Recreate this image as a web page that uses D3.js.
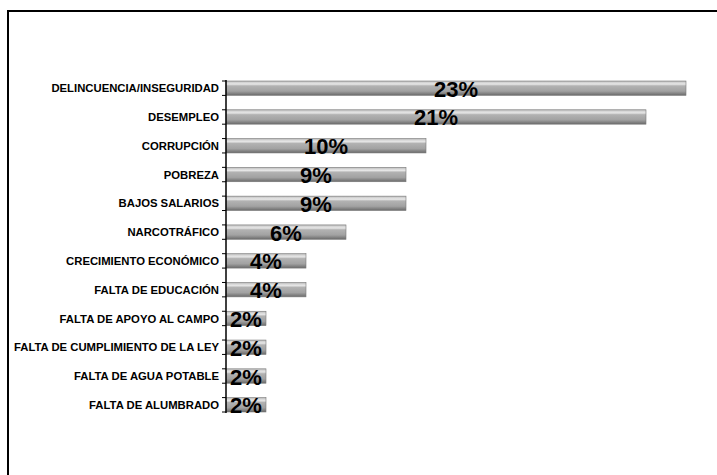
<!DOCTYPE html>
<html>
<head>
<meta charset="utf-8">
<script src="https://cdn.jsdelivr.net/npm/d3@7"></script>
<style>
  html, body { margin: 0; padding: 0; background: #fff; overflow: hidden; }
  svg { display: block; font-family: "Liberation Sans", Arial, sans-serif; }
</style>
</head>
<body>
<div id="chart"></div>
<script>
const width = 717;
const height = 475;

// datos
const categories = [
    "DELINCUENCIA/INSEGURIDAD", "DESEMPLEO", "CORRUPCIÓN", "POBREZA",
    "BAJOS SALARIOS", "NARCOTRÁFICO", "CRECIMIENTO ECONÓMICO", "FALTA DE EDUCACIÓN",
    "FALTA DE APOYO AL CAMPO", "FALTA DE CUMPLIMIENTO DE LA LEY",
    "FALTA DE AGUA POTABLE", "FALTA DE ALUMBRADO"
];
const values = [23, 21, 10, 9, 9, 6, 4, 4, 2, 2, 2, 2];

const svg = d3.select("#chart").append("svg")
    .attr("width", width).attr("height", height);

// marco exterior
svg.append("rect")
    .attr("x", 8).attr("y", 11)
    .attr("width", 730).attr("height", 480)
    .attr("fill", "none").attr("stroke", "#000").attr("stroke-width", 2);

const x = d3.scaleLinear().domain([0, 23]).range([226, 686]);
const y = d3.scaleBand().domain(categories).range([81, 412])
    .paddingInner(0.5).paddingOuter(0);

const grad = svg.append("defs").append("linearGradient")
    .attr("id", "barGrad").attr("x1", 0).attr("y1", 0).attr("x2", 0).attr("y2", 1);
[[0, "#b4b4b4"], [0.12, "#d8d8d8"], [0.22, "#e6e6e6"], [0.34, "#b2b2b2"],
 [0.7, "#a2a2a2"], [1, "#6a6a6a"]].forEach(([o, c]) =>
    grad.append("stop").attr("offset", o).attr("stop-color", c));

// barras
svg.append("g").selectAll("rect")
    .data(values)
    .join("rect")
    .attr("x", x(0))
    .attr("y", (d, i) => y(categories[i]))
    .attr("width", d => x(d) - x(0))
    .attr("height", y.bandwidth())
    .attr("fill", "url(#barGrad)")
    .attr("stroke", "#7a7a7a")
    .attr("stroke-width", 0.6);

// eje vertical
svg.append("line")
    .attr("x1", x(0)).attr("x2", x(0))
    .attr("y1", 80).attr("y2", 413)
    .attr("stroke", "#000").attr("stroke-width", 1.5);

// marcas en los bordes de cada barra
const tickYs = categories.flatMap(c => [y(c), y(c) + y.bandwidth()]);
svg.append("g").selectAll("line")
    .data(tickYs)
    .join("line")
    .attr("x1", x(0) - 4).attr("x2", x(0))
    .attr("y1", d => d).attr("y2", d => d)
    .attr("stroke", "#000").attr("stroke-width", 1);

// etiquetas de categoría
svg.append("g").selectAll("text")
    .data(categories)
    .join("text")
    .attr("x", 219)
    .attr("y", d => y(d) + y.bandwidth() / 2)
    .attr("dy", "0.36em")
    .attr("text-anchor", "end")
    .attr("font-size", 11.3)
    .attr("font-weight", "bold")
    .attr("fill", "#000")
    .text(d => d);

// etiquetas de valores
svg.append("g").selectAll("text")
    .data(values)
    .join("text")
    .attr("x", d => (x(0) + x(d)) / 2)
    .attr("y", (d, i) => y(categories[i]) + y.bandwidth() / 2 + 8.5)
    .attr("text-anchor", "middle")
    .attr("font-size", 22)
    .attr("font-weight", "bold")
    .attr("fill", "#000")
    .text(d => d + "%");
</script>
</body>
</html>
